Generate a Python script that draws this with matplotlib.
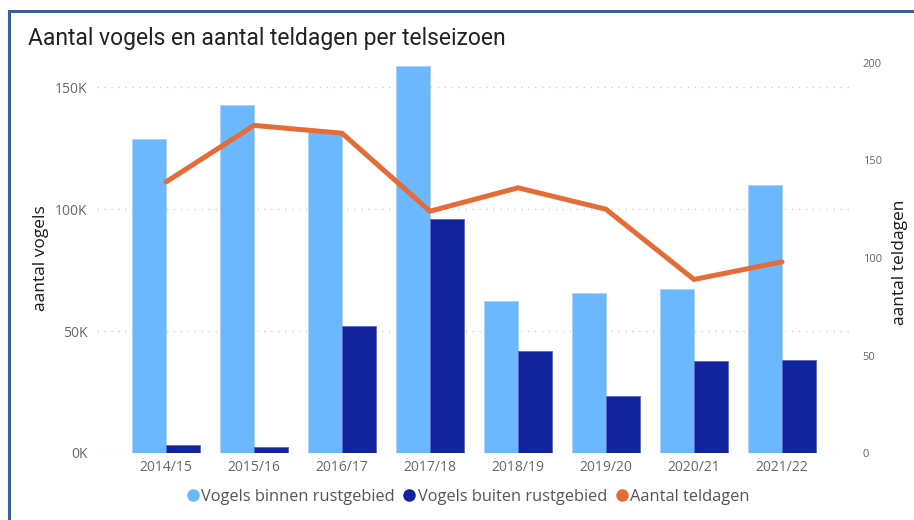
import numpy as np
import matplotlib
matplotlib.use("Agg")
import matplotlib.pyplot as plt
from matplotlib.lines import Line2D
from matplotlib.patches import Rectangle

# =========================
# DATA
# =========================
seizoenen = ["2014/15", "2015/16", "2016/17", "2017/18", "2018/19", "2019/20", "2020/21", "2021/22"]
vogels_binnen = [129000, 142600, 132100, 158600, 62300, 65700, 67100, 110100]
vogels_buiten = [3300, 2500, 52200, 95800, 41800, 23200, 37800, 38200]
teldagen = [139, 168, 164, 124, 136, 125, 89, 98]

y_ticks_links = [0, 50000, 100000, 150000]
y_labels_links = ["0K", "50K", "100K", "150K"]
y_ticks_rechts = [0, 50, 100, 150, 200]

# =========================
# STIJL
# =========================
C_LICHT = "#6CB8FE"
C_DONKER = "#12239E"
C_ORANJE = "#E66C37"
C_TICK = "#666666"
C_GRID = "#D0D0D0"
C_RAND = "#3D5E9E"

plt.rcParams["font.family"] = ["Open Sans", "DejaVu Sans"]

W, H = 914, 520
fig = plt.figure(figsize=(W / 100, H / 100), dpi=100)
fig.patch.set_facecolor("white")

# rand van de visual
fig.add_artist(Rectangle((9 / W, -0.1), 1.2, (H - 11) / H + 0.1, transform=fig.transFigure,
                         fill=False, edgecolor=C_RAND, linewidth=2.2))

# plotgebied in pixels: x 97..853, y 63..453
ax = fig.add_axes([97 / W, (H - 453) / H, (853 - 97) / W, (453 - 63) / H])
x = np.arange(len(seizoenen))
bw = 0.39

ax.bar(x - bw / 2, vogels_binnen, bw, color=C_LICHT, edgecolor="#A9D3FF", linewidth=0.6, zorder=2)
ax.bar(x + bw / 2, vogels_buiten, bw, color=C_DONKER, edgecolor="#5A6AC0", linewidth=0.6, zorder=2)

ax.set_xlim(-0.784, 7.807)
ax.set_ylim(0, 160000)
ax.set_yticks(y_ticks_links)
ax.set_yticklabels(y_labels_links)
ax.set_xticks(x)
ax.set_xticklabels(seizoenen)
ax.tick_params(axis="y", length=0, pad=7, labelsize=10, labelcolor=C_TICK)
ax.tick_params(axis="x", length=0, pad=5, labelsize=10, labelcolor=C_TICK)
ax.grid(axis="y", linestyle=(0, (1, 4)), color=C_GRID, linewidth=1, zorder=0)
for s in ax.spines.values():
    s.set_visible(False)

ax2 = ax.twinx()
ax2.plot(x, teldagen, color=C_ORANJE, linewidth=3.6, solid_capstyle="round",
         solid_joinstyle="miter", zorder=3)
ax2.set_ylim(0, 200)
ax2.set_yticks(y_ticks_rechts)
ax2.tick_params(axis="y", length=0, pad=7, labelsize=8, labelcolor=C_TICK)
for s in ax2.spines.values():
    s.set_visible(False)

# titels en aslabels
fig.text(28 / W, 1 - 38 / H, "Aantal vogels en aantal teldagen per telseizoen",
         fontsize=16.5, color="#222222", va="center", ha="left", family=["Roboto", "DejaVu Sans"])
fig.text(41 / W, 1 - 258 / H, "aantal vogels", rotation=90, fontsize=12.5, color="#1A1A1A",
         ha="center", va="center")
fig.text(900 / W, 1 - 262 / H, "aantal teldagen", rotation=90, fontsize=12.5, color="#1A1A1A",
         ha="center", va="center")

# legenda
handles = [
    Line2D([], [], marker="o", linestyle="none", markersize=8, color=C_LICHT),
    Line2D([], [], marker="o", linestyle="none", markersize=8, color=C_DONKER),
    Line2D([], [], marker="o", linestyle="none", markersize=8, color=C_ORANJE),
]
namen = ["Vogels binnen rustgebied", "Vogels buiten rustgebied", "Aantal teldagen"]
fig.legend(handles, namen, loc="center", bbox_to_anchor=(467 / W, 1 - 497 / H), ncol=3,
           frameon=False, fontsize=11.8, labelcolor="#555555", handletextpad=0.0,
           columnspacing=0.4, handlelength=1.0, borderaxespad=0)

fig.savefig("out.png", dpi=100)
